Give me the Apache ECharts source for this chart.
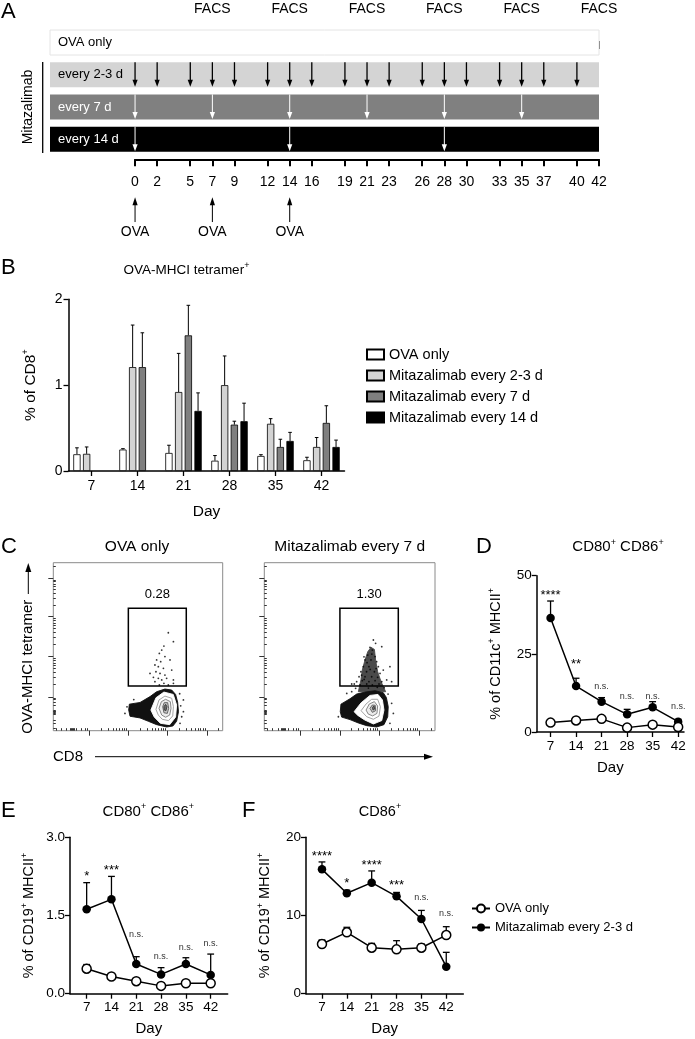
<!DOCTYPE html>
<html><head><meta charset="utf-8">
<script src="https://cdn.jsdelivr.net/npm/echarts@6/dist/echarts.min.js"></script>
<style>html,body{margin:0;padding:0;background:#fff}#c{width:695px;height:1039px}</style>
</head><body><div id="c"></div><script>
// ---------------- DATA ----------------
// Panel A (schedule)
const bandLabels = ['OVA only', 'every 2-3 d', 'every 7 d', 'every 14 d'];
const timelineDays = [0,2,5,7,9,12,14,16,19,21,23,26,28,30,33,35,37,40,42];
const facsDays = [7,14,21,28,35,42];
const ovaDays = [0,7,14];
const dose23Days = [0,2,5,7,9,12,14,16,19,21,23,26,28,30,33,35,37,40];
const dose7Days = [0,7,14,21,28,35];
const dose14Days = [0,14,28];

// Panel B (bars, mean and SEM)
const bDays = ['7','14','21','28','35','42'];
const bNames = ['OVA only','Mitazalimab every 2-3 d','Mitazalimab every 7 d','Mitazalimab every 14 d'];
const bOva = [0.195,0.25,0.21,0.12,0.175,0.125];
const bOvaSem = [0.075,0.01,0.09,0.06,0.015,0.035];
const b23 = [0.20,1.21,0.92,1.00,0.55,0.28];
const b23Sem = [0.08,0.49,0.45,0.34,0.06,0.11];
const b7 = [null,1.21,1.58,0.54,0.28,0.56];
const b7Sem = [null,0.40,0.35,0.04,0.09,0.20];
const b14 = [null,null,0.70,0.58,0.35,0.28];
const b14Sem = [null,null,0.21,0.21,0.10,0.08];

// Panel C (flow plots, axes 0-100 on each side)
const gateBox = [44.3, 26.6, 78.5, 72.9];
const gatePct = ['0.28', '1.30'];
const flowYMajor = [20.2, 44.1, 67.9, 90.9];
const flowXMajor = [21.3, 44.3, 67.3, 90.6];
const flowYLow = [1.5, 4.5, 6.5, 9.5, 10.3, 10.8, 11.3, 11.8, 12.3, 15, 17, 18.5, 19.4];
const flowXLow = [2.0, 4.9, 7.9, 10.2, 10.7, 11.2, 11.7, 12.2, 13.8, 16.7, 18.7, 20.0];
const c1Cloud = [[44.9,15.8],[51.2,16.8],[57.1,20.3],[61.0,23.2],[65.9,24.8],[69.9,24.2],[72.2,21.6],[73.4,17.0],[73.9,11.3],[72.8,5.6],[70.6,2.8],[66.9,2.2],[61.0,3.6],[56.1,5.6],[51.2,7.6],[45.3,8.6],[44.5,12.3]];
const c1Rings = [
  [[57.6,12.3],[60.6,19.6],[65.3,23.0],[70.8,21.6],[72.8,15.3],[72.2,8.1],[68.7,3.6],[63.2,4.4],[59.6,8.1]],
  [[60.6,12.7],[62.4,18.3],[65.9,20.6],[69.9,19.3],[70.9,14.3],[70.5,8.8],[68.0,6.0],[64.3,6.8],[62.0,9.3]],
  [[62.4,13.3],[63.8,17.3],[66.3,18.7],[69.1,17.3],[69.5,13.3],[68.7,9.3],[66.3,8.0],[64.0,9.3]],
  [[64.6,14.3],[65.5,16.7],[67.5,16.7],[68.1,13.3],[67.3,10.3],[65.3,10.7]],
  [[65.3,14.3],[66.3,15.7],[67.1,14.3],[66.5,11.9],[65.5,12.3]]
];
const c1Dots = [[67.9,58.3],[70.9,53.0],[65.3,50.4],[64.0,48.0],[62.6,46.0],[65.9,44.1],[61.0,42.1],[63.4,41.1],[60.0,39.1],[62.0,38.1],[65.0,37.1],[60.6,35.1],[63.0,34.1],[65.9,33.1],[59.1,31.8],[62.0,31.2],[64.0,30.2],[66.9,31.2],[69.9,36.1],[70.9,30.2],[68.9,42.1],[57.1,34.1],[67.9,27.2],[62.6,27.2],[65.3,28.2],[60.0,29.2],[70.9,28.2],[76.8,18.3],[75.8,8.3],[74.8,4.4],[42.3,10.3],[76.8,11.3],[74.6,22.0],[75.2,14.8],[47.5,18.5],[43.5,14.2]];
const c2Cloud = [[44.9,15.8],[50.2,19.0],[54.1,21.8],[59.0,23.0],[64.9,23.8],[69.7,22.6],[71.5,19.8],[72.6,14.3],[72.3,8.3],[70.1,3.6],[65.8,2.2],[60.0,3.0],[55.1,4.6],[50.2,6.6],[45.3,8.1],[44.5,11.3]];
const c2Column = [[55.1,23.2],[56.6,30.2],[57.4,36.1],[59.0,42.1],[60.6,47.0],[62.5,49.6],[64.5,48.4],[65.2,42.1],[66.4,35.1],[68.4,29.2],[71.1,23.2]];
const c2Rings = [
  [[52.6,11.3],[56.7,16.6],[61.9,21.0],[66.6,21.6],[69.2,18.3],[70.1,12.3],[68.8,6.0],[63.9,4.0],[58.8,6.4],[54.8,9.1]],
  [[56.7,11.9],[59.6,15.9],[62.9,18.7],[66.4,18.7],[68.0,14.3],[67.2,8.7],[63.9,6.8],[60.0,8.3]],
  [[59.6,12.3],[61.5,15.9],[64.5,17.3],[66.4,14.7],[66.0,10.3],[63.5,8.8],[60.9,9.9]],
  [[61.9,13.3],[63.3,15.3],[65.0,15.1],[65.2,11.9],[63.3,10.9]],
  [[63.3,13.9],[64.3,14.7],[64.7,12.9],[63.7,12.3]]
];
const c2Dots = [[63.9,54.0],[61.9,49.6],[63.3,48.0],[60.6,45.0],[64.9,44.1],[59.0,42.1],[62.5,42.1],[65.8,41.1],[58.0,38.1],[61.3,38.1],[66.8,38.1],[56.6,35.1],[59.9,35.1],[64.5,35.1],[67.8,34.1],[55.5,32.1],[59.0,32.1],[62.9,32.1],[66.4,31.8],[54.1,29.2],[57.4,29.8],[61.3,29.2],[64.9,29.8],[68.8,29.2],[52.7,27.8],[56.1,27.2],[60.0,27.8],[63.3,27.2],[67.2,27.8],[71.7,30.2],[73.6,38.1],[51.2,27.8],[74.6,29.2],[69.7,36.1],[68.8,50.0],[65.2,52.0],[48.3,22.2],[51.2,23.2],[74.6,16.3],[75.6,10.3],[73.6,4.4],[43.4,8.3],[58.4,44.0],[60.2,40.5],[63.0,45.6],[57.0,33.0],[65.5,37.0],[62.0,36.5],[58.5,30.5],[66.2,25.8],[53.5,25.2],[70.2,25.6],[61.0,25.4],[72.5,21.8]];

// Panels D, E, F (mean and SEM per day)
const days = [7,14,21,28,35,42];
const dOva = [3.0,3.7,4.2,1.4,2.35,1.6];
const dOvaSem = [0.3,0.4,0.5,0.3,0.4,0.3];
const dMit = [36.5,14.7,9.7,5.65,7.9,3.3];
const dMitSem = [5.4,2.5,1.3,1.6,1.8,0.75];
const sigD = ['****','**','n.s.','n.s.','n.s.','n.s.'];
const sigDy = [44.7,22.5,14.7,11.3,11.5,8.3];
const eOva = [0.48,0.33,0.24,0.15,0.20,0.20];
const eOvaSem = [0.08,0.02,0.02,0.02,0.02,0.02];
const eMit = [1.62,1.81,0.57,0.37,0.57,0.36];
const eMitSem = [0.51,0.44,0.14,0.13,0.12,0.40];
const sigE = ['*','***','n.s.','n.s.','n.s.','n.s.'];
const sigEy = [2.31,2.42,1.14,0.71,0.89,0.97];
const fOva = [6.35,7.85,5.88,5.67,5.88,7.5];
const fOvaSem = [0.52,0.64,0.56,1.11,0.47,1.07];
const fMit = [15.9,12.84,14.2,12.45,9.55,3.45];
const fMitSem = [0.95,0.4,1.5,0.5,1.1,1.84];
const sigF = ['****','*','****','***','n.s.','n.s.'];
const sigFy = [18.0,14.5,16.8,14.2,12.3,10.3];
const lineNames = ['OVA only ', 'Mitazalimab every 2-3 d '];

// ---------------- CHART ----------------
const FONT = '"Liberation Sans", Arial, Helvetica, sans-serif';
const BAND_H = 0.777;
const chart = echarts.init(document.getElementById('c'), null, {renderer: 'canvas'});
const xAxes = [], yAxes = [], series = [];
const addX = o => (xAxes.push(o), xAxes.length - 1);
const addY = o => (yAxes.push(o), yAxes.length - 1);
const supRich = {s: {fontSize: 9, padding: [0, 0, 9, 0], fontFamily: FONT, color: '#000'}};

const grids = [
  {left: 50, top: 30, width: 549, height: 121.7},
  {left: 135, top: 100, width: 464, height: 59.3},
  {left: 135, top: 29, width: 464, height: 20},
  {left: 68.5, top: 299.3, width: 276, height: 171.7},
  {left: 53.3, top: 562.7, width: 169.4, height: 168, show: true, borderColor: '#8a8a8a', borderWidth: 1},
  {left: 264.3, top: 562.7, width: 170.7, height: 168, show: true, borderColor: '#8a8a8a', borderWidth: 1},
  {left: 536.7, top: 575.7, width: 147.3, height: 156.3},
  {left: 70, top: 837.3, width: 157.7, height: 156.4},
  {left: 306, top: 837.3, width: 157.3, height: 156.4}
].map(g => Object.assign({outerBoundsMode: 'none', containLabel: false}, g));

const blackLine = w => ({show: true, lineStyle: {color: '#000', width: w}});
const lbl = (size, extra) => Object.assign({color: '#000', fontSize: size, fontFamily: FONT}, extra || {});

// ---- Panel A ----
const xA = addX({gridIndex: 0, type: 'value', min: -7.7, max: 42, show: false});
const yA = addY({gridIndex: 0, type: 'value', min: 0, max: 3.777, inverse: true, show: false});
addX({gridIndex: 1, type: 'value', min: 0, max: 42, position: 'bottom',
  axisLine: blackLine(2), splitLine: {show: false},
  axisTick: {show: true, customValues: timelineDays, length: 7, lineStyle: {color: '#000', width: 2}},
  axisLabel: lbl(14, {customValues: timelineDays, margin: 16})});
addY({gridIndex: 1, type: 'value', show: false});
addX({gridIndex: 2, type: 'value', min: 0, max: 42, position: 'top',
  axisLine: {show: false}, splitLine: {show: false},
  axisTick: {show: true, customValues: facsDays, length: 8, lineStyle: {color: '#000', width: 1.5}},
  axisLabel: lbl(14, {customValues: facsDays, margin: 13, formatter: () => 'FACS'})});
addY({gridIndex: 2, type: 'value', show: false});

const bandFill = ['#ffffff', '#d4d4d4', '#808080', '#000000'];
const bandText = ['#000', '#000', '#fff', '#fff'];
series.push({type: 'custom', xAxisIndex: xA, yAxisIndex: yA, silent: true, z: 1,
  data: bandLabels.map((l, i) => [i]), encode: {x: [], y: 0},
  renderItem: (p, api) => {
    const i = api.value(0);
    const a = api.coord([-7.7, i]), b = api.coord([42, i + BAND_H]);
    return {type: 'group', children: [
      {type: 'rect', shape: {x: a[0], y: a[1], width: b[0] - a[0], height: b[1] - a[1]},
        style: {fill: bandFill[i], stroke: i === 0 ? '#e4e4e4' : null, lineWidth: 1}},
      {type: 'text', x: a[0] + 8, y: (a[1] + b[1]) / 2,
        style: {text: bandLabels[i], fill: bandText[i], font: '13px ' + FONT, verticalAlign: 'middle'}}
    ]};
  }});
const doseData = dose23Days.map(d => [d, 1]).concat(dose7Days.map(d => [d, 2]), dose14Days.map(d => [d, 3]));
series.push({type: 'custom', xAxisIndex: xA, yAxisIndex: yA, silent: true, z: 3,
  data: doseData, encode: {x: 0, y: 1},
  renderItem: (p, api) => {
    const d = api.value(0), r = api.value(1);
    const t = api.coord([d, r]), b = api.coord([d, r + BAND_H]);
    const col = r === 1 ? '#000' : '#fff';
    const x = t[0];
    return {type: 'group', children: [
      {type: 'line', shape: {x1: x, y1: t[1], x2: x, y2: b[1] - 5}, style: {stroke: col, lineWidth: r === 1 ? 1.3 : 1}},
      {type: 'polygon', shape: {points: [[x - 2.6, b[1] - 7.5], [x + 2.6, b[1] - 7.5], [x, b[1] - 0.5]]}, style: {fill: col}}
    ]};
  }});
series.push({type: 'custom', xAxisIndex: xA, yAxisIndex: yA, silent: true, z: 3,
  data: ovaDays.map(d => [d, 0]), encode: {x: 0, y: 1},
  renderItem: (p, api) => {
    const d = api.value(0);
    const t = api.coord([d, 5.19]), b = api.coord([d, 5.96]), l = api.coord([d, 6.26]);
    const x = t[0];
    return {type: 'group', children: [
      {type: 'line', shape: {x1: x, y1: t[1] + 6, x2: x, y2: b[1]}, style: {stroke: '#000', lineWidth: 1}},
      {type: 'polygon', shape: {points: [[x - 2.6, t[1] + 8], [x + 2.6, t[1] + 8], [x, t[1]]]}, style: {fill: '#000'}},
      {type: 'text', x: x, y: l[1], style: {text: 'OVA', fill: '#000', font: '14px ' + FONT, align: 'center', verticalAlign: 'middle'}}
    ]};
  }});

// ---- Panel B ----
const xB = addX({gridIndex: 3, type: 'category', data: bDays,
  axisLine: blackLine(1.5), axisTick: {show: true, alignWithLabel: true, length: 5, lineStyle: {color: '#000', width: 1.3}},
  axisLabel: lbl(14, {margin: 8}),
  name: 'Day', nameLocation: 'middle', nameGap: 33, nameTextStyle: lbl(15.5)});
const yB = addY({gridIndex: 3, type: 'value', min: 0, max: 2, interval: 1,
  axisLine: blackLine(1.5), splitLine: {show: false},
  axisTick: {show: true, length: 5, lineStyle: {color: '#000', width: 1.3}},
  axisLabel: lbl(14, {margin: 6}),
  name: '% of CD8{s|+}', nameLocation: 'middle', nameGap: 29, nameTextStyle: lbl(15.5, {rich: supRich})});
const bMeans = [bOva, b23, b7, b14], bSems = [bOvaSem, b23Sem, b7Sem, b14Sem];
const bFills = ['#ffffff', '#d3d3d3', '#7f7f7f', '#000000'];
const BAR_W = 7.3, BAR_PITCH = 9.7;
bMeans.forEach((arr, k) => {
  series.push({type: 'bar', name: bNames[k], xAxisIndex: xB, yAxisIndex: yB, barWidth: BAR_W, barGap: '33%',
    data: arr.map(v => v == null ? '-' : v),
    itemStyle: {color: bFills[k], borderColor: '#000', borderWidth: 0.8}, z: 2});
  const errData = [];
  arr.forEach((v, i) => { if (v != null) errData.push([i, v, bSems[k][i]]); });
  series.push({type: 'custom', xAxisIndex: xB, yAxisIndex: yB, silent: true, z: 1, data: errData, encode: {x: 0, y: 1},
    renderItem: (p, api) => {
      const off = (k - 1.5) * BAR_PITCH;
      const p0 = api.coord([api.value(0), api.value(1)]), p1 = api.coord([api.value(0), api.value(1) + api.value(2)]);
      const x = p0[0] + off;
      return {type: 'group', children: [
        {type: 'line', shape: {x1: x, y1: p0[1], x2: x, y2: p1[1]}, style: {stroke: '#000', lineWidth: 1}},
        {type: 'line', shape: {x1: x - 1.8, y1: p1[1], x2: x + 1.8, y2: p1[1]}, style: {stroke: '#000', lineWidth: 1}}
      ]};
    }});
});

// ---- Panel C ----
function minorTicks(majors, top) {
  const out = [];
  for (let i = 0; i < majors.length; i++) {
    const a = majors[i], w = (i < majors.length - 1 ? majors[i + 1] : majors[i] + (majors[i] - majors[i - 1])) - a;
    for (let k = 2; k <= 9; k++) { const v = a + w * Math.log10(k); if (v < top) out.push(v); }
  }
  return out;
}
const flowXMinor = flowXLow.concat(minorTicks(flowXMajor, 100));
const flowYMinor = flowYLow.concat(minorTicks(flowYMajor, 100));
const flowAx = [];
[4, 5].forEach(g => {
  const tick = (vals, len) => ({show: true, customValues: vals, length: len, inside: false, lineStyle: {color: '#333', width: 1}});
  const xm = addX({gridIndex: g, type: 'value', min: 0, max: 100, axisLine: {show: false}, splitLine: {show: false},
    axisTick: tick(flowXMajor, 5), axisLabel: {show: false}});
  addX({gridIndex: g, type: 'value', min: 0, max: 100, axisLine: {show: false}, splitLine: {show: false},
    axisTick: tick(flowXMinor, 2.5), axisLabel: {show: false}});
  const ym = addY({gridIndex: g, type: 'value', min: 0, max: 100, axisLine: {show: false}, splitLine: {show: false},
    axisTick: tick(flowYMajor, 5), axisLabel: {show: false}});
  addY({gridIndex: g, type: 'value', min: 0, max: 100, axisLine: {show: false}, splitLine: {show: false},
    axisTick: tick(flowYMinor, 2.5), axisLabel: {show: false}});
  flowAx.push([xm, ym]);
});
const ringStroke = ['#ffffff', '#9a9a9a', '#7a7a7a', '#5a5a5a', '#3a3a3a'];
const ringFill = ['#ffffff', '#ffffff', '#ececec', '#c4c4c4', '#6a6a6a'];
[[c1Cloud, null, c1Rings, c1Dots], [c2Cloud, c2Column, c2Rings, c2Dots]].forEach((set, j) => {
  const ax = flowAx[j];
  // density column / cloud / contour rings, drawn in order inside one group
  series.push({type: 'custom', xAxisIndex: ax[0], yAxisIndex: ax[1], silent: true, z: 2,
    data: [[set[0][0][0], set[0][0][1]]], encode: {x: 0, y: 1},
    renderItem: (p, api) => {
      const poly = (pts, fill, stroke, z2) => ({type: 'polygon', z2: z2, shape: {points: pts.map(q => api.coord(q))},
        style: {fill: fill, stroke: stroke, lineWidth: 0.9}});
      const kids = [];
      if (set[1]) kids.push(poly(set[1], '#4a4a4a', '#4a4a4a', 1));
      kids.push(poly(set[0], '#111111', '#111111', 2));
      set[2].forEach((ring, r) => kids.push(poly(ring, ringFill[r], ringStroke[r], 3 + r)));
      return {type: 'group', children: kids};
    }});
  series.push({type: 'scatter', xAxisIndex: ax[0], yAxisIndex: ax[1], silent: true, z: 3, symbolSize: 1.8,
    itemStyle: {color: '#000'}, data: set[3]});
  series.push({type: 'custom', xAxisIndex: ax[0], yAxisIndex: ax[1], silent: true, z: 10, data: [gateBox], encode: {x: [0, 2], y: [1, 3]},
    renderItem: (p, api) => {
      const a = api.coord([api.value(0), api.value(3)]), b = api.coord([api.value(2), api.value(1)]);
      const lab = api.coord([(api.value(0) + api.value(2)) / 2, api.value(3) + 8.3]);
      return {type: 'group', children: [
        {type: 'rect', shape: {x: a[0], y: a[1], width: b[0] - a[0], height: b[1] - a[1]}, style: {fill: null, stroke: '#000', lineWidth: 1.5}},
        {type: 'text', x: lab[0], y: lab[1], style: {text: gatePct[j], fill: '#000', font: '13px ' + FONT, align: 'center', verticalAlign: 'middle'}}
      ]};
    }});
});

// ---- Panels D, E, F ----
function linePanel(g, xr, yCfg, ova, ovaSem, mit, mitSem, sig, sigY, yName) {
  const xi = addX({gridIndex: g, type: 'value', min: xr[0], max: xr[1],
    axisLine: blackLine(1.5), splitLine: {show: false},
    axisTick: {show: true, customValues: days, length: 5, lineStyle: {color: '#000', width: 1.3}},
    axisLabel: lbl(13.5, {customValues: days, margin: 7}),
    name: 'Day', nameLocation: 'middle', nameGap: 28, nameTextStyle: lbl(15)});
  const yi = addY({gridIndex: g, type: 'value', min: yCfg.min, max: yCfg.max, interval: yCfg.interval,
    axisLine: blackLine(1.5), splitLine: {show: false},
    axisTick: {show: true, length: 5, lineStyle: {color: '#000', width: 1.3}},
    axisLabel: lbl(13.5, {margin: 5, formatter: yCfg.fmt}),
    name: yName, nameLocation: 'middle', nameGap: yCfg.gap, nameTextStyle: lbl(14.5, {rich: supRich})});
  const errSeries = (m, s, z) => ({type: 'custom', xAxisIndex: xi, yAxisIndex: yi, silent: true, z: z,
    data: days.map((d, i) => [d, m[i], s[i]]), encode: {x: 0, y: 1},
    renderItem: (p, api) => {
      const p0 = api.coord([api.value(0), api.value(1)]), p1 = api.coord([api.value(0), api.value(1) + api.value(2)]);
      return {type: 'group', children: [
        {type: 'line', shape: {x1: p0[0], y1: p0[1], x2: p1[0], y2: p1[1]}, style: {stroke: '#000', lineWidth: 1.3}},
        {type: 'line', shape: {x1: p1[0] - 3.4, y1: p1[1], x2: p1[0] + 3.4, y2: p1[1]}, style: {stroke: '#000', lineWidth: 1.3}}
      ]};
    }});
  series.push(errSeries(mit, mitSem, 2));
  series.push(errSeries(ova, ovaSem, 2));
  series.push({type: 'line', name: lineNames[1], xAxisIndex: xi, yAxisIndex: yi, z: 4, symbol: 'circle', symbolSize: 8.5,
    data: days.map((d, i) => [d, mit[i]]), itemStyle: {color: '#000'}, lineStyle: {color: '#000', width: 1.5}});
  series.push({type: 'line', name: lineNames[0], xAxisIndex: xi, yAxisIndex: yi, z: 5, symbol: 'circle', symbolSize: 9,
    data: days.map((d, i) => [d, ova[i]]), itemStyle: {color: '#fff', borderColor: '#000', borderWidth: 1.5},
    lineStyle: {color: '#000', width: 1.5}});
  series.push({type: 'custom', xAxisIndex: xi, yAxisIndex: yi, silent: true, z: 6,
    data: days.map((d, i) => [d, sigY[i]]), encode: {x: 0, y: 1},
    renderItem: (p, api) => {
      const q = api.coord([api.value(0), api.value(1)]);
      const t = sig[p.dataIndex], star = t.indexOf('*') >= 0;
      return {type: 'text', x: q[0], y: q[1] + (star ? 3 : 0),
        style: {text: t, fill: star ? '#000' : '#333', font: (star ? '13px ' : '9px ') + FONT, align: 'center', verticalAlign: 'middle'}};
    }});
}
linePanel(6, [3.2, 43.6], {min: 0, max: 50, interval: 25, gap: 32}, dOva, dOvaSem, dMit, dMitSem, sigD, sigDy, '% of CD11c{s|+} MHCII{s|+}');
linePanel(7, [2.3, 46.8], {min: 0, max: 3, interval: 1.5, gap: 32, fmt: v => v.toFixed(1)}, eOva, eOvaSem, eMit, eMitSem, sigE, sigEy, '% of CD19{s|+} MHCII{s|+}');
linePanel(8, [2.5, 46.8], {min: 0, max: 20, interval: 10, gap: 32}, fOva, fOvaSem, fMit, fMitSem, sigF, sigFy, '% of CD19{s|+} MHCII{s|+}');

// ---------------- TEXT / DECORATION ----------------
const txt = (x, y, text, size, extra) => Object.assign({type: 'text', x: x, y: y, silent: true,
  style: {text: text, font: size + 'px ' + FONT, fill: '#000', align: 'center', verticalAlign: 'middle', rich: {s: {font: '9px ' + FONT, padding: [0, 0, 9, 0], fill: '#000'}}}}, extra || {});
const letter = (x, y, t) => ({type: 'text', x: x, y: y, silent: true, style: {text: t, font: '22px ' + FONT, fill: '#000', align: 'left', verticalAlign: 'middle'}});
const graphic = [
  letter(1, 12, 'A'), letter(1, 268, 'B'), letter(1, 547, 'C'), letter(476, 547, 'D'), letter(1, 811, 'E'), letter(242, 811, 'F'),
  txt(186.5, 270, 'OVA-MHCI tetramer{s|+}', 13.5),
  txt(137, 547, 'OVA only', 15.5),
  txt(349.7, 547, 'Mitazalimab every 7 d', 15.5),
  txt(618, 547, 'CD80{s|+} CD86{s|+}', 15),
  txt(148.3, 811.5, 'CD80{s|+} CD86{s|+}', 15),
  txt(380, 811.5, 'CD86{s|+}', 14.5),
  txt(28.3, 107, 'Mitazalimab', 14, {rotation: Math.PI / 2}),
  {type: 'line', silent: true, shape: {x1: 42.7, y1: 62, x2: 42.7, y2: 153}, style: {stroke: '#000', lineWidth: 1.3}},
  txt(28.3, 666.7, 'OVA-MHCI tetramer', 15, {rotation: Math.PI / 2}),
  {type: 'line', silent: true, shape: {x1: 28.3, y1: 594, x2: 28.3, y2: 570}, style: {stroke: '#000', lineWidth: 1}},
  {type: 'polygon', silent: true, shape: {points: [[25.3, 572], [31.3, 572], [28.3, 563]]}, style: {fill: '#000'}},
  {type: 'text', x: 53, y: 756.7, silent: true, style: {text: 'CD8', font: '15px ' + FONT, fill: '#000', align: 'left', verticalAlign: 'middle'}},
  {type: 'line', silent: true, shape: {x1: 95, y1: 756.7, x2: 426, y2: 756.7}, style: {stroke: '#000', lineWidth: 1}},
  {type: 'polygon', silent: true, shape: {points: [[424, 753.7], [424, 759.7], [433, 756.7]]}, style: {fill: '#000'}}
];

chart.setOption({
  animation: false,
  backgroundColor: '#fff',
  textStyle: {fontFamily: FONT, color: '#000'},
  grid: grids,
  xAxis: xAxes,
  yAxis: yAxes,
  legend: [
    {data: bNames, left: 361, top: 342, orient: 'vertical', itemWidth: 17, itemHeight: 10, itemGap: 6, icon: 'rect',
      textStyle: lbl(14.5), selectedMode: false},
    {data: lineNames, left: 466, top: 897, orient: 'vertical', itemWidth: 18, itemHeight: 10, itemGap: 6,
      formatter: n => n.trim(), textStyle: lbl(13), selectedMode: false}
  ],
  graphic: graphic,
  series: series
});
</script></body></html>
